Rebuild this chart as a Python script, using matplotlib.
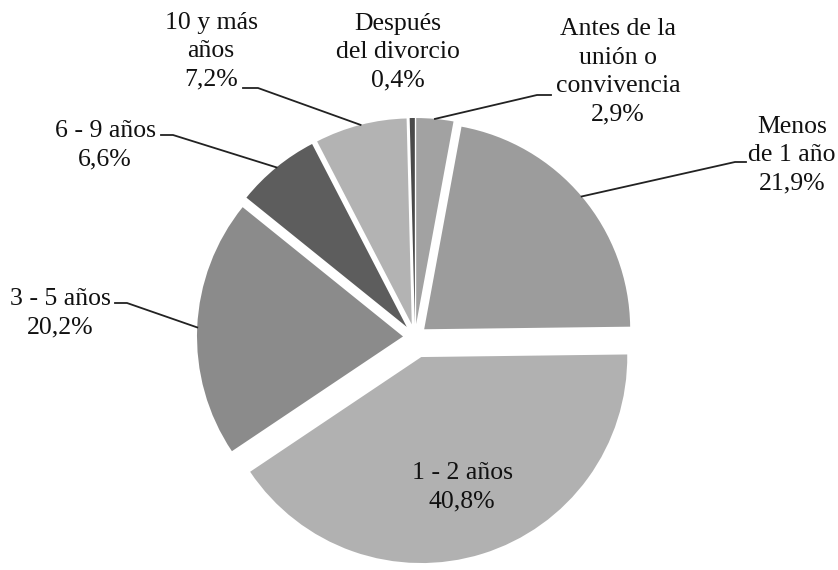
import numpy as np
import matplotlib.pyplot as plt

# datos
etiquetas = ["Antes de la\nunión o\nconvivencia", "Menos\nde 1 año", "1 - 2 años",
             "3 - 5 años", "6 - 9 años", "10 y más\naños", "Después\ndel divorcio"]
valores = [2.9, 21.9, 40.8, 20.2, 6.6, 7.2, 0.4]
colores = ["#a2a2a2", "#9c9c9c", "#b1b1b1", "#8b8b8b", "#5d5d5d", "#b3b3b3", "#4a4a4a"]
separar = [13, 12, 21, 12, 13, 13, 13]   # pixeles

# posiciones de los textos (pixeles, y hacia abajo)
pos_texto = [(618, 72), (792, 155), (462, 487), (60, 313), (105, 145), (211, 51), (398, 52)]
# quiebre de la linea guia (pixeles)
quiebre = [[(537, 95), (551, 95)], [(735, 162), (746, 162)], None,
           [(127, 303), (115, 303)], [(173, 135), (161, 135)],
           [(258, 88), (243, 88)], None]

W, H = 838, 570
cx, cy, R = 415, 337, 206

plt.rcParams['font.family'] = ['Liberation Serif', 'DejaVu Serif']
fig = plt.figure(figsize=(W / 100, H / 100), dpi=100)
ax = fig.add_axes([0, 0, 1, 1])

wedges, _ = ax.pie(valores, colors=colores, explode=separar, startangle=90,
                   counterclock=False, radius=R, center=(cx, H - cy),
                   wedgeprops=dict(linewidth=0), frame=True)
ax.set_xlim(0, W)
ax.set_ylim(0, H)
ax.set_aspect('equal')
ax.axis('off')

for i, w in enumerate(wedges):
    txt = etiquetas[i] + "\n" + f"{valores[i]:.1f}".replace(".", ",") + "%"
    tx, ty = pos_texto[i]
    ax.text(tx, H - ty, txt, ha='center', va='center', fontsize=18.5,
            linespacing=1.38, color='#111111')
    if quiebre[i] is not None:
        ang = np.deg2rad((w.theta1 + w.theta2) / 2)
        x0 = w.center[0] + w.r * np.cos(ang)
        y0 = w.center[1] + w.r * np.sin(ang)
        xs = [x0] + [p[0] for p in quiebre[i]]
        ys = [y0] + [H - p[1] for p in quiebre[i]]
        ax.plot(xs, ys, color='#222222', lw=1.3)

fig.savefig("out.png", dpi=100, facecolor='white')
